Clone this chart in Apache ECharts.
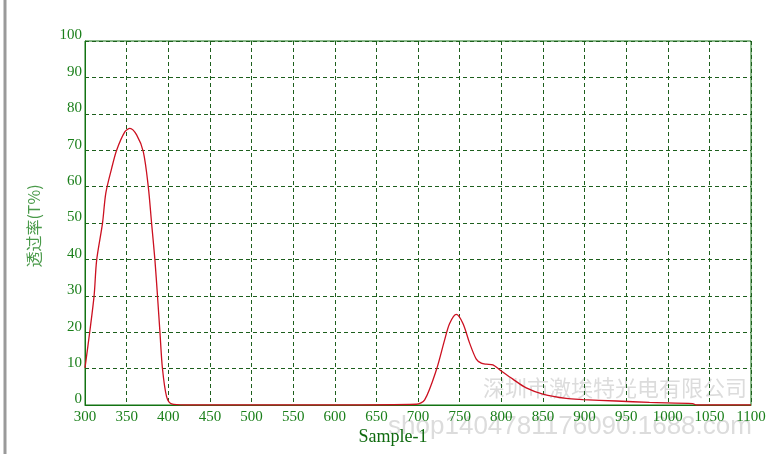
<!DOCTYPE html>
<html><head><meta charset="utf-8">
<script src="https://cdn.jsdelivr.net/npm/echarts@6/dist/echarts.min.js"></script>
<style>html,body{margin:0;padding:0;background:#fff}#c{width:777px;height:454px}</style>
</head><body><div id="c"></div>
<script>
var wavelengths = [300,306,311,314,321,325,332,338,348,354,362,370,376,380,384,387,390,393,398,404,420,500,600,698,708,722,732,738,746,754,762,770,776,782,790,798,814,830,850,878,898,938,978,1030,1034,1100];
var transmittance = [10.2,20.6,30.2,39.8,49.9,58.2,65,70,75.1,76,74.2,69.6,60,49.9,39.8,30.2,20.1,10.1,2.3,0.3,0,0,0,0.2,1.4,9.6,17.9,22.4,24.9,22.4,17,12.6,11.5,11.2,11,9.7,7.1,4.7,3.0,1.8,1.5,1.1,0.7,0.4,0,0];
var xMin = 300, xMax = 1100, xStep = 50;
var yMin = 0, yMax = 100, yStep = 10;
var yTitle = '透过率(T%)';
var xTitle = 'Sample-1';
var watermark1 = '深圳市激埃特光电有限公司';
var watermark2 = 'shop1404781176090.1688.com';

var green = '#1a7f1a';
var chart = echarts.init(document.getElementById('c'), null, {renderer:'canvas'});
chart.setOption({
  animation:false,
  backgroundColor:'#fff',
  grid:{left:85,right:26,top:41,bottom:49,show:true,borderColor:'#137313',borderWidth:1,containLabel:false},
  xAxis:{type:'value',min:xMin,max:xMax,interval:xStep,
    axisLine:{show:true,lineStyle:{color:'#137313',width:1}},
    axisTick:{show:false},
    splitLine:{show:true,lineStyle:{color:'#1d5f1d',type:[4,3],width:1}},
    axisLabel:{color:green,fontFamily:'Liberation Serif',fontSize:15,margin:5,formatter:function(v){return String(v);}}},
  yAxis:{type:'value',min:yMin,max:yMax,interval:yStep,
    axisLine:{show:true,lineStyle:{color:'#137313',width:1}},
    axisTick:{show:false},
    splitLine:{show:true,lineStyle:{color:'#1d5f1d',type:[4,3],width:1}},
    axisLabel:{color:green,fontFamily:'Liberation Serif',fontSize:15,margin:3,verticalAlign:'bottom',lineHeight:11,formatter:function(v){return String(v);}}},
  graphic:[
    {type:'line',shape:{x1:5,y1:0,x2:5,y2:454},style:{stroke:'#9a9a9a',lineWidth:3},silent:true},
    {type:'text',x:34,y:226,rotation:Math.PI/2,style:{text:yTitle,fill:'#4a9a4a',font:'16px "Noto Sans CJK SC"',align:'center',verticalAlign:'middle'}},
    {type:'text',x:393,y:437,style:{text:xTitle,fill:'#0f6a0f',font:'18px "Liberation Serif"',align:'center',verticalAlign:'middle'}},
    {type:'text',x:615,y:388,z:-1,style:{text:watermark1,fill:'#dcdcdc',font:'22px "Noto Sans CJK SC"',align:'center',verticalAlign:'middle'}},
    {type:'text',x:570,y:427,z:-1,style:{text:watermark2,fill:'#dcdcdc',font:'26px "Liberation Sans"',align:'center',verticalAlign:'middle'}}
  ],
  series:[{type:'line',data:wavelengths.map(function(w,i){return [w,transmittance[i]];}),
    smooth:0.3,showSymbol:false,lineStyle:{color:'#cc1020',width:1.3},z:5}]
});
</script></body></html>
